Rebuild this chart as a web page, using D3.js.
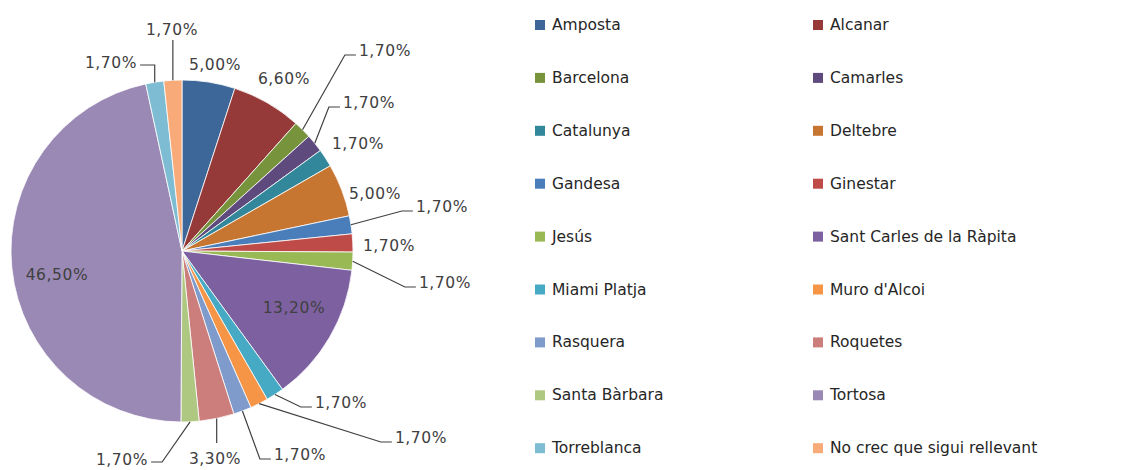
<!DOCTYPE html>
<html><head><meta charset="utf-8">
<script src="https://cdn.jsdelivr.net/npm/d3@7"></script>
<style>
html,body{margin:0;padding:0;background:#fff;}
svg{display:block;}
</style></head>
<body>
<svg id="chart" width="1132" height="470"></svg>
<script>
// ---- data ----
const categories = ["Amposta","Alcanar","Barcelona","Camarles","Catalunya","Deltebre","Gandesa","Ginestar","Jesús","Sant Carles de la Ràpita","Miami Platja","Muro d'Alcoi","Rasquera","Roquetes","Santa Bàrbara","Tortosa","Torreblanca","No crec que sigui rellevant"];
const values = [5.0,6.6,1.7,1.7,1.7,5.0,1.7,1.7,1.7,13.2,1.7,1.7,1.7,3.3,1.7,46.5,1.7,1.7];
const valueLabels = ["5,00%","6,60%","1,70%","1,70%","1,70%","5,00%","1,70%","1,70%","1,70%","13,20%","1,70%","1,70%","1,70%","3,30%","1,70%","46,50%","1,70%","1,70%"];
const colors = ["#3D6699","#953A38","#77933C","#5F4A7D","#32879B","#C77632","#4A7EBB","#BE4B48","#98B954","#7D60A0","#46AAC5","#F69546","#7E9BCB","#CB7E7C","#AFC881","#9B89B5","#7DBCD3","#F8AA79"];

// ---- label layout (centers of label text) and leader kind ----
const labelLayout = [
  [215,65,"none"],[284,79,"none"],[385,51,"right"],[369,103,"right"],[358,144,"none"],
  [375,194,"none"],[442,207,"right"],[389,246,"none"],[445,283,"right"],[294,308,"none"],
  [341,403,"right"],[421,438,"right"],[300,455,"right"],[215,459,"down"],[122,460,"left"],
  [57,275,"none"],[111,63,"hook"],[172,30,"up"]
];

const svg = d3.select("#chart");
const cx = 182, cy = 251, R = 171;
const g = svg.append("g").attr("transform",`translate(${cx},${cy})`);

const pie = d3.pie().sort(null).value(d=>d);
const arcs = pie(values);
const arc = d3.arc().innerRadius(0).outerRadius(R);

g.selectAll("path.slice").data(arcs).enter().append("path")
  .attr("class","slice")
  .attr("d",arc)
  .attr("fill",(d,i)=>colors[i])
  .attr("stroke","#fff").attr("stroke-width",0.8);

// labels
const lab = svg.append("g")
  .attr("font-family","'DejaVu Sans', Verdana, sans-serif")
  .attr("font-size","15.5px").attr("fill","#404040");

arcs.forEach((d,i)=>{
  const [lx,ly,kind] = labelLayout[i];
  const t = lab.append("text").attr("x",lx).attr("y",ly)
    .attr("text-anchor","middle").attr("dominant-baseline","central")
    .attr("letter-spacing","0.6px")
    .text(valueLabels[i]);
  const w = t.node().getComputedTextLength();
  const mid = (d.startAngle+d.endAngle)/2;
  const px = cx + R*Math.sin(mid), py = cy - R*Math.cos(mid);
  let pts = null;
  const left = lx - w/2, right = lx + w/2;
  if(kind==="right"){
    pts = [[px,py],[left-14,ly+4],[left-3,ly+4]];
  } else if(kind==="left"){
    pts = [[px,py],[right+14,ly+2],[right+3,ly+2]];
  } else if(kind==="up"){
    pts = [[px,py],[px,ly+10]];
  } else if(kind==="down"){
    pts = [[px,py],[px,ly-16]];
  } else if(kind==="hook"){
    pts = [[right+3,ly+2],[px,ly+2],[px,py]];
  }
  if(pts){
    svg.append("path").attr("d",d3.line()(pts))
      .attr("fill","none").attr("stroke","#404040").attr("stroke-width",1.2);
  }
});

// legend
const legend = svg.append("g")
  .attr("font-family","'DejaVu Sans', Verdana, sans-serif")
  .attr("font-size","15.5px").attr("fill","#262626");
const colX = [535, 813], row0 = 25, rowStep = 52.9;
categories.forEach((c,i)=>{
  const col = i%2, row = Math.floor(i/2);
  const y = row0 + row*rowStep;
  legend.append("rect").attr("x",colX[col]).attr("y",y-5).attr("width",10).attr("height",10)
    .attr("fill",colors[i]);
  legend.append("text").attr("x",colX[col]+17).attr("y",y)
    .attr("dominant-baseline","central").text(c);
});
</script>
</body></html>
